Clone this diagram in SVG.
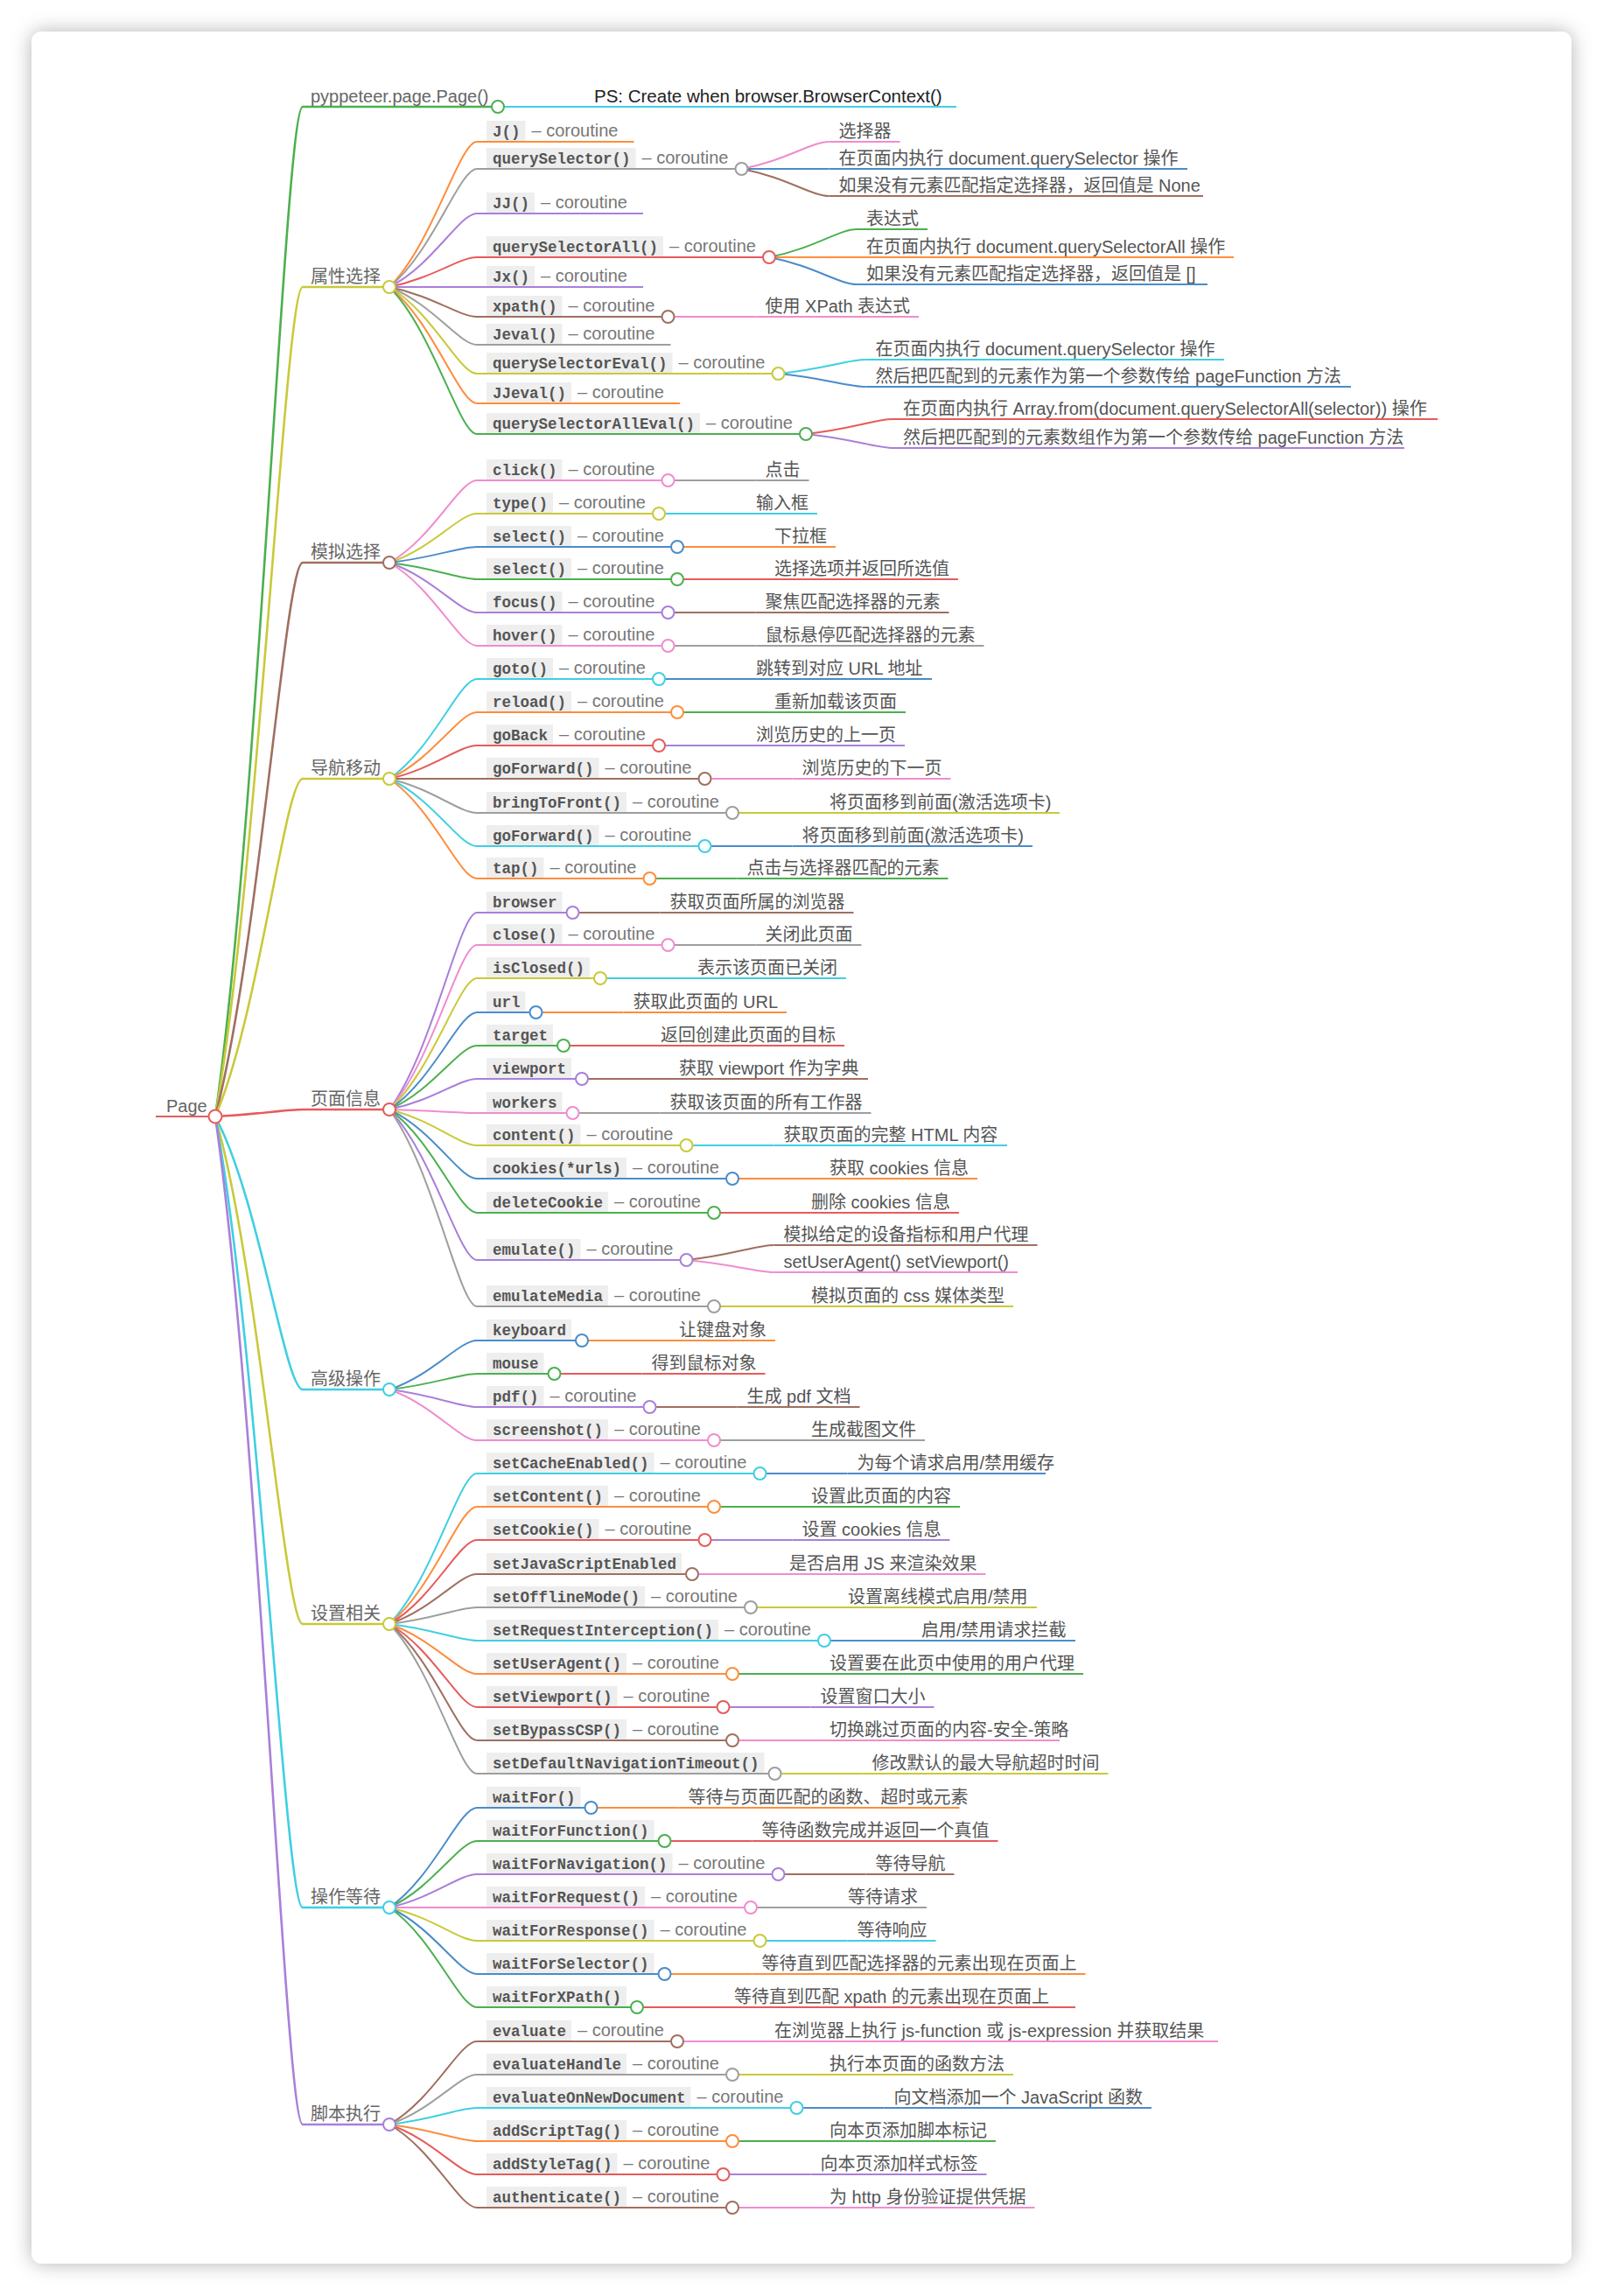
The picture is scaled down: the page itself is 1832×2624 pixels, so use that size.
<svg xmlns="http://www.w3.org/2000/svg" width="1832" height="2624" viewBox="0 0 1832 2624">
<defs>
<filter id="sh" x="-5%" y="-5%" width="110%" height="110%"><feDropShadow dx="0" dy="0" stdDeviation="11" flood-color="#000" flood-opacity="0.3"/></filter>
<style>
path{fill:none;stroke-width:2}
circle{fill:#fff;stroke-width:2}
.w{stroke-width:2.6}
.or{stroke:#fd8d3c}.gy{stroke:#9e9e9e}.pu{stroke:#a97fd9}.rd{stroke:#e65b5b}.gn{stroke:#4bb04f}
.bl{stroke:#4a8cca}.br{stroke:#a06f5f}.ol{stroke:#c9c93a}.pk{stroke:#f08ccf}.cy{stroke:#3fcfe2}
.box{fill:#eeeeee}
text{font-family:"Liberation Sans","Noto Sans CJK SC",sans-serif;font-size:20px}
.l1{fill:#666}
.ps{fill:#222;font-size:20.5px}
.m{font-family:"Liberation Mono",monospace;font-weight:bold;font-size:17.5px;fill:#555}
.co{fill:#777}
.t{fill:#555}
</style>
</defs>
<rect width="1832" height="2624" fill="#fff"/>
<rect x="36" y="36" width="1760" height="2551" rx="12" fill="#fff" filter="url(#sh)"/>

<g id="connectors">
<path class="gn w" d="M246 1276C296 929.8 326 122 346 122"/>
<path class="ol w" d="M246 1276C296 991.6 326 328 346 328"/>
<path class="br w" d="M246 1276C296 1086.1 326 643 346 643"/>
<path class="ol w" d="M246 1276C296 1160.2 326 890 346 890"/>
<path class="rd w" d="M246 1276C296 1273.6 326 1268 346 1268"/>
<path class="cy w" d="M246 1276C296 1369.6 326 1588 346 1588"/>
<path class="ol w" d="M246 1276C296 1450 326 1856 346 1856"/>
<path class="cy w" d="M246 1276C296 1547.2 326 2180 346 2180"/>
<path class="pu w" d="M246 1276C296 1621.6 326 2428 346 2428"/>
<path class="cy" d="M569 122H669"/>
<path class="or" d="M445 328C495 278.2 525 162 545 162"/>
<path class="gy" d="M445 328C495 287.5 525 193 545 193"/>
<path class="pu" d="M445 328C495 302.8 525 244 545 244"/>
<path class="rd" d="M445 328C495 317.8 525 294 545 294"/>
<path class="pu" d="M445 328H545"/>
<path class="br" d="M445 328C495 338.2 525 362 545 362"/>
<path class="gy" d="M445 328C495 347.8 525 394 545 394"/>
<path class="ol" d="M445 328C495 357.7 525 427 545 427"/>
<path class="or" d="M445 328C495 367.9 525 461 545 461"/>
<path class="gn" d="M445 328C495 378.4 525 496 545 496"/>
<path class="pk" d="M847.5 193C897.5 183.7 927.5 162 947.5 162"/>
<path class="bl" d="M847.5 193H947.5"/>
<path class="br" d="M847.5 193C897.5 202.3 927.5 224 947.5 224"/>
<path class="gn" d="M879 294C929 284.4 959 262 979 262"/>
<path class="or" d="M879 294H979"/>
<path class="bl" d="M879 294C929 303.3 959 325 979 325"/>
<path class="pk" d="M763.5 362H863.5"/>
<path class="cy" d="M889.5 427C939.5 422.2 969.5 411 989.5 411"/>
<path class="bl" d="M889.5 427C939.5 431.5 969.5 442 989.5 442"/>
<path class="rd" d="M921 496C971 490.9 1001 479 1021 479"/>
<path class="pu" d="M921 496C971 500.8 1001 512 1021 512"/>
<path class="pk" d="M445 643C495 614.8 525 549 545 549"/>
<path class="ol" d="M445 643C495 626.2 525 587 545 587"/>
<path class="bl" d="M445 643C495 637.6 525 625 545 625"/>
<path class="gn" d="M445 643C495 648.7 525 662 545 662"/>
<path class="pu" d="M445 643C495 660.1 525 700 545 700"/>
<path class="pk" d="M445 643C495 671.5 525 738 545 738"/>
<path class="gy" d="M763.5 549H863.5"/>
<path class="cy" d="M753 587H853"/>
<path class="or" d="M774 625H874"/>
<path class="rd" d="M774 662H874"/>
<path class="br" d="M763.5 700H863.5"/>
<path class="gy" d="M763.5 738H863.5"/>
<path class="cy" d="M445 890C495 855.8 525 776 545 776"/>
<path class="or" d="M445 890C495 867.2 525 814 545 814"/>
<path class="rd" d="M445 890C495 878.6 525 852 545 852"/>
<path class="br" d="M445 890H545"/>
<path class="gy" d="M445 890C495 901.7 525 929 545 929"/>
<path class="cy" d="M445 890C495 913.1 525 967 545 967"/>
<path class="or" d="M445 890C495 924.2 525 1004 545 1004"/>
<path class="bl" d="M753 776H853"/>
<path class="gn" d="M774 814H874"/>
<path class="pu" d="M753 852H853"/>
<path class="pk" d="M805.5 890H905.5"/>
<path class="ol" d="M837 929H937"/>
<path class="bl" d="M805.5 967H905.5"/>
<path class="gn" d="M742.5 1004H842.5"/>
<path class="pu" d="M445 1268C495 1200.5 525 1043 545 1043"/>
<path class="pk" d="M445 1268C495 1211.6 525 1080 545 1080"/>
<path class="ol" d="M445 1268C495 1223 525 1118 545 1118"/>
<path class="bl" d="M445 1268C495 1234.7 525 1157 545 1157"/>
<path class="gn" d="M445 1268C495 1246.1 525 1195 545 1195"/>
<path class="pu" d="M445 1268C495 1257.5 525 1233 545 1233"/>
<path class="pk" d="M445 1268C495 1269.2 525 1272 545 1272"/>
<path class="ol" d="M445 1268C495 1280.3 525 1309 545 1309"/>
<path class="bl" d="M445 1268C495 1291.7 525 1347 545 1347"/>
<path class="gn" d="M445 1268C495 1303.4 525 1386 545 1386"/>
<path class="pu" d="M445 1268C495 1319.6 525 1440 545 1440"/>
<path class="gy" d="M445 1268C495 1335.5 525 1493 545 1493"/>
<path class="br" d="M654.5 1043H754.5"/>
<path class="gy" d="M763.5 1080H863.5"/>
<path class="cy" d="M686 1118H786"/>
<path class="or" d="M612.5 1157H712.5"/>
<path class="rd" d="M644 1195H744"/>
<path class="br" d="M665 1233H765"/>
<path class="gy" d="M654.5 1272H754.5"/>
<path class="cy" d="M784.5 1309H884.5"/>
<path class="or" d="M837 1347H937"/>
<path class="rd" d="M816 1386H916"/>
<path class="br" d="M784.5 1440C834.5 1434.9 864.5 1423 884.5 1423"/>
<path class="pk" d="M784.5 1440C834.5 1444.2 864.5 1454 884.5 1454"/>
<path class="ol" d="M816 1493H916"/>
<path class="bl" d="M445 1588C495 1571.2 525 1532 545 1532"/>
<path class="gn" d="M445 1588C495 1582.6 525 1570 545 1570"/>
<path class="pu" d="M445 1588C495 1594 525 1608 545 1608"/>
<path class="pk" d="M445 1588C495 1605.4 525 1646 545 1646"/>
<path class="or" d="M665 1532H765"/>
<path class="rd" d="M633.5 1570H733.5"/>
<path class="br" d="M742.5 1608H842.5"/>
<path class="gy" d="M816 1646H916"/>
<path class="cy" d="M445 1856C495 1804.4 525 1684 545 1684"/>
<path class="or" d="M445 1856C495 1815.8 525 1722 545 1722"/>
<path class="rd" d="M445 1856C495 1827.2 525 1760 545 1760"/>
<path class="br" d="M445 1856C495 1838.9 525 1799 545 1799"/>
<path class="gy" d="M445 1856C495 1850.3 525 1837 545 1837"/>
<path class="cy" d="M445 1856C495 1861.7 525 1875 545 1875"/>
<path class="or" d="M445 1856C495 1873.1 525 1913 545 1913"/>
<path class="rd" d="M445 1856C495 1884.5 525 1951 545 1951"/>
<path class="br" d="M445 1856C495 1895.9 525 1989 545 1989"/>
<path class="gy" d="M445 1856C495 1907.3 525 2027 545 2027"/>
<path class="bl" d="M868.5 1684H968.5"/>
<path class="gn" d="M816 1722H916"/>
<path class="pu" d="M805.5 1760H905.5"/>
<path class="pk" d="M791 1799H891"/>
<path class="ol" d="M858 1837H958"/>
<path class="bl" d="M942 1875H1042"/>
<path class="gn" d="M837 1913H937"/>
<path class="pu" d="M826.5 1951H926.5"/>
<path class="pk" d="M837 1989H937"/>
<path class="ol" d="M885.5 2027H985.5"/>
<path class="bl" d="M445 2180C495 2145.8 525 2066 545 2066"/>
<path class="gn" d="M445 2180C495 2157.2 525 2104 545 2104"/>
<path class="pu" d="M445 2180C495 2168.6 525 2142 545 2142"/>
<path class="pk" d="M445 2180H545"/>
<path class="ol" d="M445 2180C495 2191.4 525 2218 545 2218"/>
<path class="bl" d="M445 2180C495 2202.8 525 2256 545 2256"/>
<path class="gn" d="M445 2180C495 2214.2 525 2294 545 2294"/>
<path class="or" d="M675.5 2066H775.5"/>
<path class="rd" d="M759.5 2104H859.5"/>
<path class="br" d="M889.5 2142H989.5"/>
<path class="gy" d="M858 2180H958"/>
<path class="cy" d="M868.5 2218H968.5"/>
<path class="or" d="M759.5 2256H859.5"/>
<path class="rd" d="M728 2294H828"/>
<path class="br" d="M445 2428C495 2399.5 525 2333 545 2333"/>
<path class="gy" d="M445 2428C495 2410.9 525 2371 545 2371"/>
<path class="cy" d="M445 2428C495 2422.3 525 2409 545 2409"/>
<path class="or" d="M445 2428C495 2433.7 525 2447 545 2447"/>
<path class="rd" d="M445 2428C495 2445.1 525 2485 545 2485"/>
<path class="br" d="M445 2428C495 2456.5 525 2523 545 2523"/>
<path class="pk" d="M774 2333H874"/>
<path class="ol" d="M837 2371H937"/>
<path class="bl" d="M910.5 2409H1010.5"/>
<path class="gn" d="M837 2447H937"/>
<path class="pu" d="M826.5 2485H926.5"/>
<path class="pk" d="M837 2523H937"/>
</g>

<g id="n-page"><path class="rd" stroke-width="4.5" d="M178 1276H246"/><text class="l1" x="190" y="1271">Page</text><circle class="rd" cx="246" cy="1276" r="7.5"/></g>

<g id="n-pyppeteer"><path class="gn w" d="M346 122H569"/><text class="l1" x="355" y="117">pyppeteer.page.Page()</text><circle class="gn" cx="569" cy="122" r="7"/></g>
<g id="n-ps"><path class="cy" d="M669 122H1093"/><text class="ps" x="679" y="117">PS: Create when browser.BrowserContext()</text></g>

<g id="n-attr"><path class="ol w" d="M346 328H445"/><text class="l1" x="355" y="323">属性选择</text><circle class="ol" cx="445" cy="328" r="7"/></g>
<g id="n-J"><path class="or" d="M545 162H724.5"/><rect class="box" x="556" y="138" width="44.5" height="23"/><text class="m" x="563" y="156">J()</text><text class="co" x="607.5" y="156">– coroutine</text></g>
<g id="n-querySelector"><path class="gy" d="M545 193H847.5"/><rect class="box" x="556" y="169" width="170.5" height="23"/><text class="m" x="563" y="187">querySelector()</text><text class="co" x="733.5" y="187">– coroutine</text><circle class="gy" cx="847.5" cy="193" r="7"/></g>
<g id="n-qs-1"><path class="pk" d="M947.5 162H1028.5"/><text class="t" x="958.5" y="157">选择器</text></g>
<g id="n-qs-2"><path class="bl" d="M947.5 193H1357"/><text class="t" x="958.5" y="188">在页面内执行 document.querySelector 操作</text></g>
<g id="n-qs-3"><path class="br" d="M947.5 224H1375"/><text class="t" x="958.5" y="219">如果没有元素匹配指定选择器，返回值是 None</text></g>
<g id="n-JJ"><path class="pu" d="M545 244H735"/><rect class="box" x="556" y="220" width="55" height="23"/><text class="m" x="563" y="238">JJ()</text><text class="co" x="618" y="238">– coroutine</text></g>
<g id="n-querySelectorAll"><path class="rd" d="M545 294H879"/><rect class="box" x="556" y="270" width="202" height="23"/><text class="m" x="563" y="288">querySelectorAll()</text><text class="co" x="765" y="288">– coroutine</text><circle class="rd" cx="879" cy="294" r="7"/></g>
<g id="n-qsa-1"><path class="gn" d="M979 262H1060"/><text class="t" x="990" y="257">表达式</text></g>
<g id="n-qsa-2"><path class="or" d="M979 294H1410"/><text class="t" x="990" y="289">在页面内执行 document.querySelectorAll 操作</text></g>
<g id="n-qsa-3"><path class="bl" d="M979 325H1380"/><text class="t" x="990" y="320">如果没有元素匹配指定选择器，返回值是 []</text></g>
<g id="n-Jx"><path class="pu" d="M545 328H735"/><rect class="box" x="556" y="304" width="55" height="23"/><text class="m" x="563" y="322">Jx()</text><text class="co" x="618" y="322">– coroutine</text></g>
<g id="n-xpath"><path class="br" d="M545 362H763.5"/><rect class="box" x="556" y="338" width="86.5" height="23"/><text class="m" x="563" y="356">xpath()</text><text class="co" x="649.5" y="356">– coroutine</text><circle class="br" cx="763.5" cy="362" r="7"/></g>
<g id="n-xpath-1"><path class="pk" d="M863.5 362H1050"/><text class="t" x="874.5" y="357">使用 XPath 表达式</text></g>
<g id="n-Jeval"><path class="gy" d="M545 394H766.5"/><rect class="box" x="556" y="370" width="86.5" height="23"/><text class="m" x="563" y="388">Jeval()</text><text class="co" x="649.5" y="388">– coroutine</text></g>
<g id="n-querySelectorEval"><path class="ol" d="M545 427H889.5"/><rect class="box" x="556" y="403" width="212.5" height="23"/><text class="m" x="563" y="421">querySelectorEval()</text><text class="co" x="775.5" y="421">– coroutine</text><circle class="ol" cx="889.5" cy="427" r="7"/></g>
<g id="n-qse-1"><path class="cy" d="M989.5 411H1399"/><text class="t" x="1000.5" y="406">在页面内执行 document.querySelector 操作</text></g>
<g id="n-qse-2"><path class="bl" d="M989.5 442H1544"/><text class="t" x="1000.5" y="437">然后把匹配到的元素作为第一个参数传给 pageFunction 方法</text></g>
<g id="n-JJeval"><path class="or" d="M545 461H777"/><rect class="box" x="556" y="437" width="97" height="23"/><text class="m" x="563" y="455">JJeval()</text><text class="co" x="660" y="455">– coroutine</text></g>
<g id="n-querySelectorAllEval"><path class="gn" d="M545 496H921"/><rect class="box" x="556" y="472" width="244" height="23"/><text class="m" x="563" y="490">querySelectorAllEval()</text><text class="co" x="807" y="490">– coroutine</text><circle class="gn" cx="921" cy="496" r="7"/></g>
<g id="n-qsae-1"><path class="rd" d="M1021 479H1643"/><text class="t" x="1032" y="474">在页面内执行 Array.from(document.querySelectorAll(selector)) 操作</text></g>
<g id="n-qsae-2"><path class="pu" d="M1021 512H1605"/><text class="t" x="1032" y="507">然后把匹配到的元素数组作为第一个参数传给 pageFunction 方法</text></g>

<g id="n-sim"><path class="br w" d="M346 643H445"/><text class="l1" x="355" y="638">模拟选择</text><circle class="br" cx="445" cy="643" r="7"/></g>
<g id="n-click"><path class="pk" d="M545 549H763.5"/><rect class="box" x="556" y="525" width="86.5" height="23"/><text class="m" x="563" y="543">click()</text><text class="co" x="649.5" y="543">– coroutine</text><circle class="pk" cx="763.5" cy="549" r="7"/></g>
<g id="n-click-1"><path class="gy" d="M863.5 549H924.5"/><text class="t" x="874.5" y="544">点击</text></g>
<g id="n-type"><path class="ol" d="M545 587H753"/><rect class="box" x="556" y="563" width="76" height="23"/><text class="m" x="563" y="581">type()</text><text class="co" x="639" y="581">– coroutine</text><circle class="ol" cx="753" cy="587" r="7"/></g>
<g id="n-type-1"><path class="cy" d="M853 587H934"/><text class="t" x="864" y="582">输入框</text></g>
<g id="n-select1"><path class="bl" d="M545 625H774"/><rect class="box" x="556" y="601" width="97" height="23"/><text class="m" x="563" y="619">select()</text><text class="co" x="660" y="619">– coroutine</text><circle class="bl" cx="774" cy="625" r="7"/></g>
<g id="n-select1-1"><path class="or" d="M874 625H955"/><text class="t" x="885" y="620">下拉框</text></g>
<g id="n-select2"><path class="gn" d="M545 662H774"/><rect class="box" x="556" y="638" width="97" height="23"/><text class="m" x="563" y="656">select()</text><text class="co" x="660" y="656">– coroutine</text><circle class="gn" cx="774" cy="662" r="7"/></g>
<g id="n-select2-1"><path class="rd" d="M874 662H1095"/><text class="t" x="885" y="657">选择选项并返回所选值</text></g>
<g id="n-focus"><path class="pu" d="M545 700H763.5"/><rect class="box" x="556" y="676" width="86.5" height="23"/><text class="m" x="563" y="694">focus()</text><text class="co" x="649.5" y="694">– coroutine</text><circle class="pu" cx="763.5" cy="700" r="7"/></g>
<g id="n-focus-1"><path class="br" d="M863.5 700H1084.5"/><text class="t" x="874.5" y="695">聚焦匹配选择器的元素</text></g>
<g id="n-hover"><path class="pk" d="M545 738H763.5"/><rect class="box" x="556" y="714" width="86.5" height="23"/><text class="m" x="563" y="732">hover()</text><text class="co" x="649.5" y="732">– coroutine</text><circle class="pk" cx="763.5" cy="738" r="7"/></g>
<g id="n-hover-1"><path class="gy" d="M863.5 738H1124.5"/><text class="t" x="874.5" y="733">鼠标悬停匹配选择器的元素</text></g>

<g id="n-nav"><path class="ol w" d="M346 890H445"/><text class="l1" x="355" y="885">导航移动</text><circle class="ol" cx="445" cy="890" r="7"/></g>
<g id="n-goto"><path class="cy" d="M545 776H753"/><rect class="box" x="556" y="752" width="76" height="23"/><text class="m" x="563" y="770">goto()</text><text class="co" x="639" y="770">– coroutine</text><circle class="cy" cx="753" cy="776" r="7"/></g>
<g id="n-goto-1"><path class="bl" d="M853 776H1065"/><text class="t" x="864" y="771">跳转到对应 URL 地址</text></g>
<g id="n-reload"><path class="or" d="M545 814H774"/><rect class="box" x="556" y="790" width="97" height="23"/><text class="m" x="563" y="808">reload()</text><text class="co" x="660" y="808">– coroutine</text><circle class="or" cx="774" cy="814" r="7"/></g>
<g id="n-reload-1"><path class="gn" d="M874 814H1035"/><text class="t" x="885" y="809">重新加载该页面</text></g>
<g id="n-goBack"><path class="rd" d="M545 852H753"/><rect class="box" x="556" y="828" width="76" height="23"/><text class="m" x="563" y="846">goBack</text><text class="co" x="639" y="846">– coroutine</text><circle class="rd" cx="753" cy="852" r="7"/></g>
<g id="n-goBack-1"><path class="pu" d="M853 852H1034"/><text class="t" x="864" y="847">浏览历史的上一页</text></g>
<g id="n-goForward1"><path class="br" d="M545 890H805.5"/><rect class="box" x="556" y="866" width="128.5" height="23"/><text class="m" x="563" y="884">goForward()</text><text class="co" x="691.5" y="884">– coroutine</text><circle class="br" cx="805.5" cy="890" r="7"/></g>
<g id="n-goForward1-1"><path class="pk" d="M905.5 890H1086.5"/><text class="t" x="916.5" y="885">浏览历史的下一页</text></g>
<g id="n-bringToFront"><path class="gy" d="M545 929H837"/><rect class="box" x="556" y="905" width="160" height="23"/><text class="m" x="563" y="923">bringToFront()</text><text class="co" x="723" y="923">– coroutine</text><circle class="gy" cx="837" cy="929" r="7"/></g>
<g id="n-bringToFront-1"><path class="ol" d="M937 929H1211"/><text class="t" x="948" y="924">将页面移到前面(激活选项卡)</text></g>
<g id="n-goForward2"><path class="cy" d="M545 967H805.5"/><rect class="box" x="556" y="943" width="128.5" height="23"/><text class="m" x="563" y="961">goForward()</text><text class="co" x="691.5" y="961">– coroutine</text><circle class="cy" cx="805.5" cy="967" r="7"/></g>
<g id="n-goForward2-1"><path class="bl" d="M905.5 967H1180"/><text class="t" x="916.5" y="962">将页面移到前面(激活选项卡)</text></g>
<g id="n-tap"><path class="or" d="M545 1004H742.5"/><rect class="box" x="556" y="980" width="65.5" height="23"/><text class="m" x="563" y="998">tap()</text><text class="co" x="628.5" y="998">– coroutine</text><circle class="or" cx="742.5" cy="1004" r="7"/></g>
<g id="n-tap-1"><path class="gn" d="M842.5 1004H1083.5"/><text class="t" x="853.5" y="999">点击与选择器匹配的元素</text></g>

<g id="n-info"><path class="rd w" d="M346 1268H445"/><text class="l1" x="355" y="1263">页面信息</text><circle class="rd" cx="445" cy="1268" r="7"/></g>
<g id="n-browser"><path class="pu" d="M545 1043H654.5"/><rect class="box" x="556" y="1019" width="86.5" height="23"/><text class="m" x="563" y="1037">browser</text><circle class="pu" cx="654.5" cy="1043" r="7"/></g>
<g id="n-browser-1"><path class="br" d="M754.5 1043H975.5"/><text class="t" x="765.5" y="1038">获取页面所属的浏览器</text></g>
<g id="n-close"><path class="pk" d="M545 1080H763.5"/><rect class="box" x="556" y="1056" width="86.5" height="23"/><text class="m" x="563" y="1074">close()</text><text class="co" x="649.5" y="1074">– coroutine</text><circle class="pk" cx="763.5" cy="1080" r="7"/></g>
<g id="n-close-1"><path class="gy" d="M863.5 1080H984.5"/><text class="t" x="874.5" y="1075">关闭此页面</text></g>
<g id="n-isClosed"><path class="ol" d="M545 1118H686"/><rect class="box" x="556" y="1094" width="118" height="23"/><text class="m" x="563" y="1112">isClosed()</text><circle class="ol" cx="686" cy="1118" r="7"/></g>
<g id="n-isClosed-1"><path class="cy" d="M786 1118H967"/><text class="t" x="797" y="1113">表示该页面已关闭</text></g>
<g id="n-url"><path class="bl" d="M545 1157H612.5"/><rect class="box" x="556" y="1133" width="44.5" height="23"/><text class="m" x="563" y="1151">url</text><circle class="bl" cx="612.5" cy="1157" r="7"/></g>
<g id="n-url-1"><path class="or" d="M712.5 1157H899"/><text class="t" x="723.5" y="1152">获取此页面的 URL</text></g>
<g id="n-target"><path class="gn" d="M545 1195H644"/><rect class="box" x="556" y="1171" width="76" height="23"/><text class="m" x="563" y="1189">target</text><circle class="gn" cx="644" cy="1195" r="7"/></g>
<g id="n-target-1"><path class="rd" d="M744 1195H965"/><text class="t" x="755" y="1190">返回创建此页面的目标</text></g>
<g id="n-viewport"><path class="pu" d="M545 1233H665"/><rect class="box" x="556" y="1209" width="97" height="23"/><text class="m" x="563" y="1227">viewport</text><circle class="pu" cx="665" cy="1233" r="7"/></g>
<g id="n-viewport-1"><path class="br" d="M765 1233H992"/><text class="t" x="776" y="1228">获取 viewport 作为字典</text></g>
<g id="n-workers"><path class="pk" d="M545 1272H654.5"/><rect class="box" x="556" y="1248" width="86.5" height="23"/><text class="m" x="563" y="1266">workers</text><circle class="pk" cx="654.5" cy="1272" r="7"/></g>
<g id="n-workers-1"><path class="gy" d="M754.5 1272H995.5"/><text class="t" x="765.5" y="1267">获取该页面的所有工作器</text></g>
<g id="n-content"><path class="ol" d="M545 1309H784.5"/><rect class="box" x="556" y="1285" width="107.5" height="23"/><text class="m" x="563" y="1303">content()</text><text class="co" x="670.5" y="1303">– coroutine</text><circle class="ol" cx="784.5" cy="1309" r="7"/></g>
<g id="n-content-1"><path class="cy" d="M884.5 1309H1151"/><text class="t" x="895.5" y="1304">获取页面的完整 HTML 内容</text></g>
<g id="n-cookies"><path class="bl" d="M545 1347H837"/><rect class="box" x="556" y="1323" width="160" height="23"/><text class="m" x="563" y="1341">cookies(*urls)</text><text class="co" x="723" y="1341">– coroutine</text><circle class="bl" cx="837" cy="1347" r="7"/></g>
<g id="n-cookies-1"><path class="or" d="M937 1347H1117"/><text class="t" x="948" y="1342">获取 cookies 信息</text></g>
<g id="n-deleteCookie"><path class="gn" d="M545 1386H816"/><rect class="box" x="556" y="1362" width="139" height="23"/><text class="m" x="563" y="1380">deleteCookie</text><text class="co" x="702" y="1380">– coroutine</text><circle class="gn" cx="816" cy="1386" r="7"/></g>
<g id="n-deleteCookie-1"><path class="rd" d="M916 1386H1096"/><text class="t" x="927" y="1381">删除 cookies 信息</text></g>
<g id="n-emulate"><path class="pu" d="M545 1440H784.5"/><rect class="box" x="556" y="1416" width="107.5" height="23"/><text class="m" x="563" y="1434">emulate()</text><text class="co" x="670.5" y="1434">– coroutine</text><circle class="pu" cx="784.5" cy="1440" r="7"/></g>
<g id="n-emulate-1"><path class="br" d="M884.5 1423H1185.5"/><text class="t" x="895.5" y="1418">模拟给定的设备指标和用户代理</text></g>
<g id="n-emulate-2"><path class="pk" d="M884.5 1454H1163"/><text class="t" x="895.5" y="1449">setUserAgent() setViewport()</text></g>
<g id="n-emulateMedia"><path class="gy" d="M545 1493H816"/><rect class="box" x="556" y="1469" width="139" height="23"/><text class="m" x="563" y="1487">emulateMedia</text><text class="co" x="702" y="1487">– coroutine</text><circle class="gy" cx="816" cy="1493" r="7"/></g>
<g id="n-emulateMedia-1"><path class="ol" d="M916 1493H1158"/><text class="t" x="927" y="1488">模拟页面的 css 媒体类型</text></g>

<g id="n-adv"><path class="cy w" d="M346 1588H445"/><text class="l1" x="355" y="1583">高级操作</text><circle class="cy" cx="445" cy="1588" r="7"/></g>
<g id="n-keyboard"><path class="bl" d="M545 1532H665"/><rect class="box" x="556" y="1508" width="97" height="23"/><text class="m" x="563" y="1526">keyboard</text><circle class="bl" cx="665" cy="1532" r="7"/></g>
<g id="n-keyboard-1"><path class="or" d="M765 1532H886"/><text class="t" x="776" y="1527">让键盘对象</text></g>
<g id="n-mouse"><path class="gn" d="M545 1570H633.5"/><rect class="box" x="556" y="1546" width="65.5" height="23"/><text class="m" x="563" y="1564">mouse</text><circle class="gn" cx="633.5" cy="1570" r="7"/></g>
<g id="n-mouse-1"><path class="rd" d="M733.5 1570H874.5"/><text class="t" x="744.5" y="1565">得到鼠标对象</text></g>
<g id="n-pdf"><path class="pu" d="M545 1608H742.5"/><rect class="box" x="556" y="1584" width="65.5" height="23"/><text class="m" x="563" y="1602">pdf()</text><text class="co" x="628.5" y="1602">– coroutine</text><circle class="pu" cx="742.5" cy="1608" r="7"/></g>
<g id="n-pdf-1"><path class="br" d="M842.5 1608H982.5"/><text class="t" x="853.5" y="1603">生成 pdf 文档</text></g>
<g id="n-screenshot"><path class="pk" d="M545 1646H816"/><rect class="box" x="556" y="1622" width="139" height="23"/><text class="m" x="563" y="1640">screenshot()</text><text class="co" x="702" y="1640">– coroutine</text><circle class="pk" cx="816" cy="1646" r="7"/></g>
<g id="n-screenshot-1"><path class="gy" d="M916 1646H1057"/><text class="t" x="927" y="1641">生成截图文件</text></g>

<g id="n-set"><path class="ol w" d="M346 1856H445"/><text class="l1" x="355" y="1851">设置相关</text><circle class="ol" cx="445" cy="1856" r="7"/></g>
<g id="n-setCacheEnabled"><path class="cy" d="M545 1684H868.5"/><rect class="box" x="556" y="1660" width="191.5" height="23"/><text class="m" x="563" y="1678">setCacheEnabled()</text><text class="co" x="754.5" y="1678">– coroutine</text><circle class="cy" cx="868.5" cy="1684" r="7"/></g>
<g id="n-setCacheEnabled-1"><path class="bl" d="M968.5 1684H1195"/><text class="t" x="979.5" y="1679">为每个请求启用/禁用缓存</text></g>
<g id="n-setContent"><path class="or" d="M545 1722H816"/><rect class="box" x="556" y="1698" width="139" height="23"/><text class="m" x="563" y="1716">setContent()</text><text class="co" x="702" y="1716">– coroutine</text><circle class="or" cx="816" cy="1722" r="7"/></g>
<g id="n-setContent-1"><path class="gn" d="M916 1722H1097"/><text class="t" x="927" y="1717">设置此页面的内容</text></g>
<g id="n-setCookie"><path class="rd" d="M545 1760H805.5"/><rect class="box" x="556" y="1736" width="128.5" height="23"/><text class="m" x="563" y="1754">setCookie()</text><text class="co" x="691.5" y="1754">– coroutine</text><circle class="rd" cx="805.5" cy="1760" r="7"/></g>
<g id="n-setCookie-1"><path class="pu" d="M905.5 1760H1085.5"/><text class="t" x="916.5" y="1755">设置 cookies 信息</text></g>
<g id="n-setJavaScriptEnabled"><path class="br" d="M545 1799H791"/><rect class="box" x="556" y="1775" width="223" height="23"/><text class="m" x="563" y="1793">setJavaScriptEnabled</text><circle class="br" cx="791" cy="1799" r="7"/></g>
<g id="n-setJavaScriptEnabled-1"><path class="pk" d="M891 1799H1126.5"/><text class="t" x="902" y="1794">是否启用 JS 来渲染效果</text></g>
<g id="n-setOfflineMode"><path class="gy" d="M545 1837H858"/><rect class="box" x="556" y="1813" width="181" height="23"/><text class="m" x="563" y="1831">setOfflineMode()</text><text class="co" x="744" y="1831">– coroutine</text><circle class="gy" cx="858" cy="1837" r="7"/></g>
<g id="n-setOfflineMode-1"><path class="ol" d="M958 1837H1185"/><text class="t" x="969" y="1832">设置离线模式启用/禁用</text></g>
<g id="n-setRequestInterception"><path class="cy" d="M545 1875H942"/><rect class="box" x="556" y="1851" width="265" height="23"/><text class="m" x="563" y="1869">setRequestInterception()</text><text class="co" x="828" y="1869">– coroutine</text><circle class="cy" cx="942" cy="1875" r="7"/></g>
<g id="n-setRequestInterception-1"><path class="bl" d="M1042 1875H1229"/><text class="t" x="1053" y="1870">启用/禁用请求拦截</text></g>
<g id="n-setUserAgent"><path class="or" d="M545 1913H837"/><rect class="box" x="556" y="1889" width="160" height="23"/><text class="m" x="563" y="1907">setUserAgent()</text><text class="co" x="723" y="1907">– coroutine</text><circle class="or" cx="837" cy="1913" r="7"/></g>
<g id="n-setUserAgent-1"><path class="gn" d="M937 1913H1238"/><text class="t" x="948" y="1908">设置要在此页中使用的用户代理</text></g>
<g id="n-setViewport"><path class="rd" d="M545 1951H826.5"/><rect class="box" x="556" y="1927" width="149.5" height="23"/><text class="m" x="563" y="1945">setViewport()</text><text class="co" x="712.5" y="1945">– coroutine</text><circle class="rd" cx="826.5" cy="1951" r="7"/></g>
<g id="n-setViewport-1"><path class="pu" d="M926.5 1951H1067.5"/><text class="t" x="937.5" y="1946">设置窗口大小</text></g>
<g id="n-setBypassCSP"><path class="br" d="M545 1989H837"/><rect class="box" x="556" y="1965" width="160" height="23"/><text class="m" x="563" y="1983">setBypassCSP()</text><text class="co" x="723" y="1983">– coroutine</text><circle class="br" cx="837" cy="1989" r="7"/></g>
<g id="n-setBypassCSP-1"><path class="pk" d="M937 1989H1211"/><text class="t" x="948" y="1984">切换跳过页面的内容-安全-策略</text></g>
<g id="n-setDefaultNavigationTimeout"><path class="gy" d="M545 2027H885.5"/><rect class="box" x="556" y="2003" width="317.5" height="23"/><text class="m" x="563" y="2021">setDefaultNavigationTimeout()</text><circle class="gy" cx="885.5" cy="2027" r="7"/></g>
<g id="n-setDefaultNavigationTimeout-1"><path class="ol" d="M985.5 2027H1266.5"/><text class="t" x="996.5" y="2022">修改默认的最大导航超时时间</text></g>

<g id="n-wait"><path class="cy w" d="M346 2180H445"/><text class="l1" x="355" y="2175">操作等待</text><circle class="cy" cx="445" cy="2180" r="7"/></g>
<g id="n-waitFor"><path class="bl" d="M545 2066H675.5"/><rect class="box" x="556" y="2042" width="107.5" height="23"/><text class="m" x="563" y="2060">waitFor()</text><circle class="bl" cx="675.5" cy="2066" r="7"/></g>
<g id="n-waitFor-1"><path class="or" d="M775.5 2066H1096.5"/><text class="t" x="786.5" y="2061">等待与页面匹配的函数、超时或元素</text></g>
<g id="n-waitForFunction"><path class="gn" d="M545 2104H759.5"/><rect class="box" x="556" y="2080" width="191.5" height="23"/><text class="m" x="563" y="2098">waitForFunction()</text><circle class="gn" cx="759.5" cy="2104" r="7"/></g>
<g id="n-waitForFunction-1"><path class="rd" d="M859.5 2104H1140.5"/><text class="t" x="870.5" y="2099">等待函数完成并返回一个真值</text></g>
<g id="n-waitForNavigation"><path class="pu" d="M545 2142H889.5"/><rect class="box" x="556" y="2118" width="212.5" height="23"/><text class="m" x="563" y="2136">waitForNavigation()</text><text class="co" x="775.5" y="2136">– coroutine</text><circle class="pu" cx="889.5" cy="2142" r="7"/></g>
<g id="n-waitForNavigation-1"><path class="br" d="M989.5 2142H1090.5"/><text class="t" x="1000.5" y="2137">等待导航</text></g>
<g id="n-waitForRequest"><path class="pk" d="M545 2180H858"/><rect class="box" x="556" y="2156" width="181" height="23"/><text class="m" x="563" y="2174">waitForRequest()</text><text class="co" x="744" y="2174">– coroutine</text><circle class="pk" cx="858" cy="2180" r="7"/></g>
<g id="n-waitForRequest-1"><path class="gy" d="M958 2180H1059"/><text class="t" x="969" y="2175">等待请求</text></g>
<g id="n-waitForResponse"><path class="ol" d="M545 2218H868.5"/><rect class="box" x="556" y="2194" width="191.5" height="23"/><text class="m" x="563" y="2212">waitForResponse()</text><text class="co" x="754.5" y="2212">– coroutine</text><circle class="ol" cx="868.5" cy="2218" r="7"/></g>
<g id="n-waitForResponse-1"><path class="cy" d="M968.5 2218H1069.5"/><text class="t" x="979.5" y="2213">等待响应</text></g>
<g id="n-waitForSelector"><path class="bl" d="M545 2256H759.5"/><rect class="box" x="556" y="2232" width="191.5" height="23"/><text class="m" x="563" y="2250">waitForSelector()</text><circle class="bl" cx="759.5" cy="2256" r="7"/></g>
<g id="n-waitForSelector-1"><path class="or" d="M859.5 2256H1240.5"/><text class="t" x="870.5" y="2251">等待直到匹配选择器的元素出现在页面上</text></g>
<g id="n-waitForXPath"><path class="gn" d="M545 2294H728"/><rect class="box" x="556" y="2270" width="160" height="23"/><text class="m" x="563" y="2288">waitForXPath()</text><circle class="gn" cx="728" cy="2294" r="7"/></g>
<g id="n-waitForXPath-1"><path class="rd" d="M828 2294H1229"/><text class="t" x="839" y="2289">等待直到匹配 xpath 的元素出现在页面上</text></g>

<g id="n-script"><path class="pu w" d="M346 2428H445"/><text class="l1" x="355" y="2423">脚本执行</text><circle class="pu" cx="445" cy="2428" r="7"/></g>
<g id="n-evaluate"><path class="br" d="M545 2333H774"/><rect class="box" x="556" y="2309" width="97" height="23"/><text class="m" x="563" y="2327">evaluate</text><text class="co" x="660" y="2327">– coroutine</text><circle class="br" cx="774" cy="2333" r="7"/></g>
<g id="n-evaluate-1"><path class="pk" d="M874 2333H1392"/><text class="t" x="885" y="2328">在浏览器上执行 js-function 或 js-expression 并获取结果</text></g>
<g id="n-evaluateHandle"><path class="gy" d="M545 2371H837"/><rect class="box" x="556" y="2347" width="160" height="23"/><text class="m" x="563" y="2365">evaluateHandle</text><text class="co" x="723" y="2365">– coroutine</text><circle class="gy" cx="837" cy="2371" r="7"/></g>
<g id="n-evaluateHandle-1"><path class="ol" d="M937 2371H1158"/><text class="t" x="948" y="2366">执行本页面的函数方法</text></g>
<g id="n-evaluateOnNewDocument"><path class="cy" d="M545 2409H910.5"/><rect class="box" x="556" y="2385" width="233.5" height="23"/><text class="m" x="563" y="2403">evaluateOnNewDocument</text><text class="co" x="796.5" y="2403">– coroutine</text><circle class="cy" cx="910.5" cy="2409" r="7"/></g>
<g id="n-evaluateOnNewDocument-1"><path class="bl" d="M1010.5 2409H1316"/><text class="t" x="1021.5" y="2404">向文档添加一个 JavaScript 函数</text></g>
<g id="n-addScriptTag"><path class="or" d="M545 2447H837"/><rect class="box" x="556" y="2423" width="160" height="23"/><text class="m" x="563" y="2441">addScriptTag()</text><text class="co" x="723" y="2441">– coroutine</text><circle class="or" cx="837" cy="2447" r="7"/></g>
<g id="n-addScriptTag-1"><path class="gn" d="M937 2447H1138"/><text class="t" x="948" y="2442">向本页添加脚本标记</text></g>
<g id="n-addStyleTag"><path class="rd" d="M545 2485H826.5"/><rect class="box" x="556" y="2461" width="149.5" height="23"/><text class="m" x="563" y="2479">addStyleTag()</text><text class="co" x="712.5" y="2479">– coroutine</text><circle class="rd" cx="826.5" cy="2485" r="7"/></g>
<g id="n-addStyleTag-1"><path class="pu" d="M926.5 2485H1127.5"/><text class="t" x="937.5" y="2480">向本页添加样式标签</text></g>
<g id="n-authenticate"><path class="br" d="M545 2523H837"/><rect class="box" x="556" y="2499" width="160" height="23"/><text class="m" x="563" y="2517">authenticate()</text><text class="co" x="723" y="2517">– coroutine</text><circle class="br" cx="837" cy="2523" r="7"/></g>
<g id="n-authenticate-1"><path class="pk" d="M937 2523H1182.5"/><text class="t" x="948" y="2518">为 http 身份验证提供凭据</text></g>
</svg>
